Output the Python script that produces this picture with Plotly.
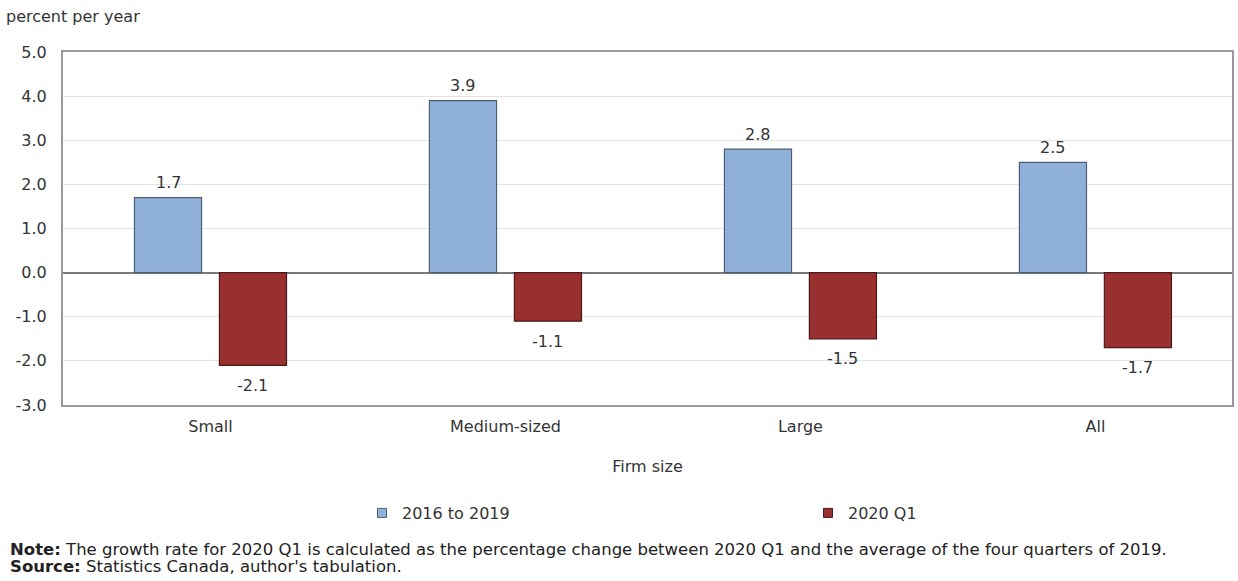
import plotly.graph_objects as go

categories = ["Small", "Medium-sized", "Large", "All"]
growth_2016_2019 = [1.7, 3.9, 2.8, 2.5]
growth_2020_q1 = [-2.1, -1.1, -1.5, -1.7]
y_ticks = [5.0, 4.0, 3.0, 2.0, 1.0, 0.0, -1.0, -2.0, -3.0]

FONT = "DejaVu Sans, Verdana, sans-serif"
TXT = "#333333"
FS = 16

BLUE, BLUE_EDGE = "#8fb1d9", "#4f5f73"
RED, RED_EDGE = "#9a2f2f", "#4a1a1a"

# plot area geometry (pixels)
L, R, T, B = 63, 6, 52, 176
W, H = 1238 - L - R, 581 - T - B

fig = go.Figure()
fig.add_trace(go.Bar(
    x=categories, y=growth_2016_2019, name="2016 to 2019", showlegend=False,
    marker=dict(color=BLUE, line=dict(color=BLUE_EDGE, width=1.2)),
))
fig.add_trace(go.Bar(
    x=categories, y=growth_2020_q1, name="2020 Q1", showlegend=False,
    marker=dict(color=RED, line=dict(color=RED_EDGE, width=1.2)),
))

# legend keys: small square swatches, one legend per series
for name, fill, edge, leg in [("2016 to 2019", BLUE, BLUE_EDGE, "legend"),
                              ("2020 Q1", RED, RED_EDGE, "legend2")]:
    fig.add_trace(go.Scatter(
        x=[None], y=[None], mode="markers", name=name, legend=leg,
        marker=dict(symbol="square", size=9, color=fill, line=dict(color=edge, width=1)),
    ))

# value labels on the bars
BAR_OFFSET = 0.144
annotations = []
for series, sign in [(growth_2016_2019, -1), (growth_2020_q1, 1)]:
    for i, v in enumerate(series):
        annotations.append(dict(x=i + sign * BAR_OFFSET, y=v, xref="x", yref="y",
                                text=f"{v:.1f}", showarrow=False,
                                yshift=15 if v >= 0 else -20,
                                font=dict(size=FS, color=TXT)))

annotations += [
    dict(text="percent per year", xref="paper", yref="paper", x=-(L - 4) / W, y=1 + 35 / H,
         xanchor="left", yanchor="middle", showarrow=False,
         font=dict(size=FS, color=TXT)),
    dict(text="<b>Note:</b> The growth rate for 2020 Q1 is calculated as the percentage change "
              "between 2020 Q1 and the average of the four quarters of 2019.",
         xref="paper", yref="paper", x=-(L - 8) / W, y=-(549 - 405) / H,
         xanchor="left", yanchor="middle", showarrow=False,
         font=dict(size=16.5, color="#222222")),
    dict(text="<b>Source:</b> Statistics Canada, author's tabulation.",
         xref="paper", yref="paper", x=-(L - 8) / W, y=-(566 - 405) / H,
         xanchor="left", yanchor="middle", showarrow=False,
         font=dict(size=16.5, color="#222222")),
]

legend_style = dict(orientation="h", yanchor="middle", xanchor="left",
                    font=dict(size=FS, color=TXT, family=FONT),
                    itemwidth=30, bgcolor="rgba(0,0,0,0)")

fig.update_layout(
    width=1238, height=581,
    margin=dict(l=L, r=R, t=T, b=B, autoexpand=False),
    paper_bgcolor="white", plot_bgcolor="white",
    barmode="group", bargap=0.424, bargroupgap=0.21,
    font=dict(family=FONT, size=FS, color=TXT),
    showlegend=True,
    legend=dict(x=(362 - L) / W, y=-(513 - 405) / H, **legend_style),
    legend2=dict(x=(808 - L) / W, y=-(513 - 405) / H, **legend_style),
    xaxis=dict(
        range=[-0.5, 3.463], showgrid=False, ticks="", showline=True,
        linecolor="#999999", linewidth=2, mirror=True,
        tickfont=dict(size=FS, color=TXT), ticklabelstandoff=6,
        title=dict(text="Firm size", font=dict(size=FS, color=TXT), standoff=26),
    ),
    yaxis=dict(
        range=[-3.0, 5.0], tickvals=y_ticks, ticktext=[f"{v:.1f}" for v in y_ticks],
        showgrid=True, gridcolor="#e3e3e3", gridwidth=1,
        zeroline=True, zerolinecolor="#7a7a7a", zerolinewidth=1.5,
        showline=True, linecolor="#999999", linewidth=2, mirror=True,
        ticks="", tickfont=dict(size=FS, color=TXT), ticklabelstandoff=11,
    ),
    annotations=annotations,
)

fig.write_html("out.html")
